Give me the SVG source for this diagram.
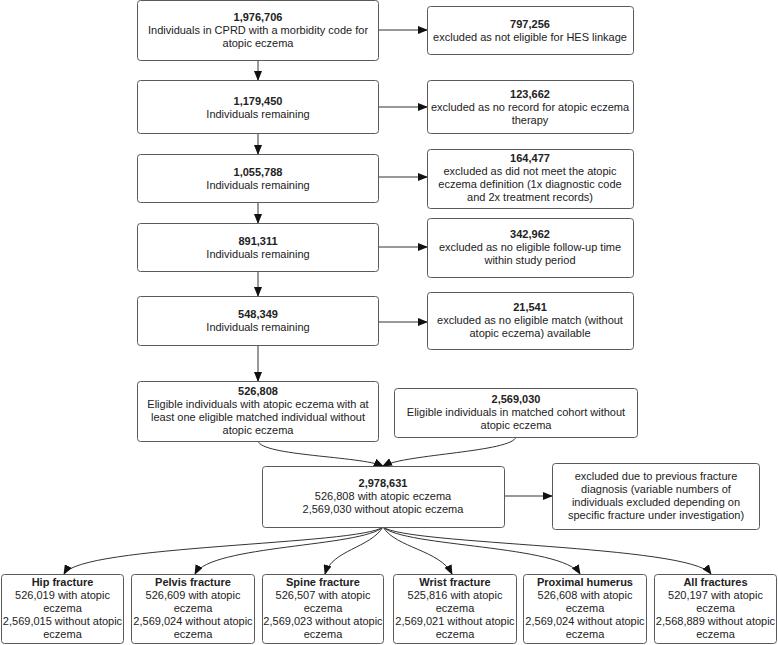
<svg xmlns="http://www.w3.org/2000/svg" width="778" height="645" viewBox="0 0 778 645">
<style>
.box{fill:#fff;stroke:#5a5a5a;stroke-width:1}
text{font-family:"Liberation Sans",Arial,sans-serif;font-size:11px;fill:#222;text-anchor:middle}
.b{font-weight:bold}
.c{fill:none;stroke:#333;stroke-width:1}
</style>
<defs>
<marker id="ah" markerUnits="userSpaceOnUse" markerWidth="10" markerHeight="8" refX="9" refY="4" orient="auto">
<path d="M0,0 L10,4 L0,8 Z" fill="#111"/>
</marker>
</defs>
<rect width="778" height="645" fill="#fff"/>
<g id="connectors">
<path class="c" marker-end="url(#ah)" d="M258,60 V80"/>
<path class="c" marker-end="url(#ah)" d="M258,134 V154"/>
<path class="c" marker-end="url(#ah)" d="M258,202 V223"/>
<path class="c" marker-end="url(#ah)" d="M258,271 V296"/>
<path class="c" marker-end="url(#ah)" d="M258,345 V381"/>
<path class="c" marker-end="url(#ah)" d="M378,30 H427"/>
<path class="c" marker-end="url(#ah)" d="M378,107 H427"/>
<path class="c" marker-end="url(#ah)" d="M378,177 H427"/>
<path class="c" marker-end="url(#ah)" d="M378,247 H427"/>
<path class="c" marker-end="url(#ah)" d="M378,322 H427"/>
<path class="c" marker-end="url(#ah)" d="M504,496 H552"/>
<path class="c" marker-end="url(#ah)" d="M258,441 C262,456 360,456 383,466"/>
<path class="c" marker-end="url(#ah)" d="M516,437 C512,452 406,454 383,466"/>
<path class="c" marker-end="url(#ah)" d="M383,527 C360,545 80,545 64,574"/>
<path class="c" marker-end="url(#ah)" d="M383,527 C362,547 210,545 195,574"/>
<path class="c" marker-end="url(#ah)" d="M383,527 C370,548 332,550 325,574"/>
<path class="c" marker-end="url(#ah)" d="M383,527 C396,548 440,550 452,574"/>
<path class="c" marker-end="url(#ah)" d="M383,527 C404,547 562,545 580,574"/>
<path class="c" marker-end="url(#ah)" d="M383,527 C406,545 690,545 711,574"/>
</g>
<g id="n1"><rect class="box" x="137.5" y="0.5" width="241" height="60" rx="3"/>
<text x="258" y="21" class="b">1,976,706</text><text x="258" y="34">Individuals in CPRD with a morbidity code for</text><text x="258" y="47">atopic eczema</text></g>
<g id="n2"><rect class="box" x="137.5" y="80.5" width="241" height="53" rx="3"/>
<text x="258" y="104.5" class="b">1,179,450</text><text x="258" y="117.5">Individuals remaining</text></g>
<g id="n3"><rect class="box" x="137.5" y="154.5" width="241" height="48" rx="3"/>
<text x="258" y="175.5" class="b">1,055,788</text><text x="258" y="188.5">Individuals remaining</text></g>
<g id="n4"><rect class="box" x="137.5" y="223.5" width="241" height="48" rx="3"/>
<text x="258" y="244.5" class="b">891,311</text><text x="258" y="257.5">Individuals remaining</text></g>
<g id="n5"><rect class="box" x="137.5" y="296.5" width="241" height="49" rx="3"/>
<text x="258" y="318" class="b">548,349</text><text x="258" y="331">Individuals remaining</text></g>
<g id="r1"><rect class="box" x="427.5" y="6.5" width="206" height="48" rx="3"/>
<text x="530" y="27.5" class="b">797,256</text><text x="530" y="40.5">excluded as not eligible for HES linkage</text></g>
<g id="r2"><rect class="box" x="427.5" y="80.5" width="206" height="53" rx="3"/>
<text x="530" y="98" class="b">123,662</text><text x="530" y="111">excluded as no record for atopic eczema</text><text x="530" y="124">therapy</text></g>
<g id="r3"><rect class="box" x="427.5" y="149.5" width="206" height="59" rx="3"/>
<text x="530" y="162" class="b">164,477</text><text x="530" y="175">excluded as did not meet the atopic</text><text x="530" y="188">eczema definition (1x diagnostic code</text><text x="530" y="201">and 2x treatment records)</text></g>
<g id="r4"><rect class="box" x="427.5" y="218.5" width="206" height="59" rx="3"/>
<text x="530" y="238" class="b">342,962</text><text x="530" y="251">excluded as no eligible follow-up time</text><text x="530" y="264">within study period</text></g>
<g id="r5"><rect class="box" x="427.5" y="292.5" width="206" height="57" rx="3"/>
<text x="530" y="310.5" class="b">21,541</text><text x="530" y="323.5">excluded as no eligible match (without</text><text x="530" y="336.5">atopic eczema) available</text></g>
<g id="n6"><rect class="box" x="137.5" y="381.5" width="241" height="60" rx="3"/>
<text x="258" y="395" class="b">526,808</text><text x="258" y="408">Eligible individuals with atopic eczema with at</text><text x="258" y="421">least one eligible matched individual without</text><text x="258" y="434">atopic eczema</text></g>
<g id="n7"><rect class="box" x="394.5" y="388.5" width="243" height="49" rx="3"/>
<text x="516" y="402.5" class="b">2,569,030</text><text x="516" y="415.5">Eligible individuals in matched cohort without</text><text x="516" y="428.5">atopic eczema</text></g>
<g id="n8"><rect class="box" x="262.5" y="466.5" width="242" height="61" rx="3"/>
<text x="383" y="487" class="b">2,978,631</text><text x="383" y="500">526,808 with atopic eczema</text><text x="383" y="513">2,569,030 without atopic eczema</text></g>
<g id="n9"><rect class="box" x="552.5" y="463.5" width="207" height="66" rx="3"/>
<text x="656" y="480" >excluded due to previous fracture</text><text x="656" y="493">diagnosis (variable numbers of</text><text x="656" y="506">individuals excluded depending on</text><text x="656" y="519">specific fracture under investigation)</text></g>
<g id="f1"><rect class="box" x="1.5" y="574.5" width="122" height="69" rx="3"/>
<text x="62.5" y="586" class="b">Hip fracture</text><text x="62.5" y="599">526,019 with atopic</text><text x="62.5" y="612">eczema</text><text x="62.5" y="625">2,569,015 without atopic</text><text x="62.5" y="638">eczema</text></g>
<g id="f2"><rect class="box" x="131.5" y="574.5" width="123" height="69" rx="3"/>
<text x="193" y="586" class="b">Pelvis fracture</text><text x="193" y="599">526,609 with atopic</text><text x="193" y="612">eczema</text><text x="193" y="625">2,569,024 without atopic</text><text x="193" y="638">eczema</text></g>
<g id="f3"><rect class="box" x="262.5" y="574.5" width="121" height="69" rx="3"/>
<text x="323" y="586" class="b">Spine fracture</text><text x="323" y="599">526,507 with atopic</text><text x="323" y="612">eczema</text><text x="323" y="625">2,569,023 without atopic</text><text x="323" y="638">eczema</text></g>
<g id="f4"><rect class="box" x="393.5" y="574.5" width="123" height="69" rx="3"/>
<text x="455" y="586" class="b">Wrist fracture</text><text x="455" y="599">525,816 with atopic</text><text x="455" y="612">eczema</text><text x="455" y="625">2,569,021 without atopic</text><text x="455" y="638">eczema</text></g>
<g id="f5"><rect class="box" x="523.5" y="574.5" width="123" height="69" rx="3"/>
<text x="585" y="586" class="b">Proximal humerus</text><text x="585" y="599">526,608 with atopic</text><text x="585" y="612">eczema</text><text x="585" y="625">2,569,024 without atopic</text><text x="585" y="638">eczema</text></g>
<g id="f6"><rect class="box" x="654.5" y="574.5" width="122" height="69" rx="3"/>
<text x="715.5" y="586" class="b">All fractures</text><text x="715.5" y="599">520,197 with atopic</text><text x="715.5" y="612">eczema</text><text x="715.5" y="625">2,568,889 without atopic</text><text x="715.5" y="638">eczema</text></g>
</svg>
